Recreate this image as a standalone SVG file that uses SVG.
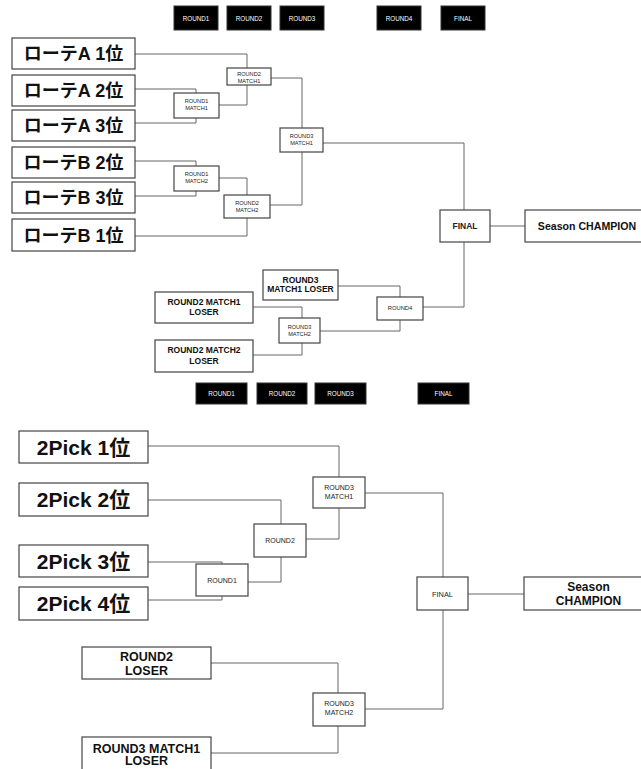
<svg xmlns="http://www.w3.org/2000/svg" width="641" height="769" viewBox="0 0 641 769">
<style>
.bg{fill:#ffffff}
.hdr{fill:#000000;stroke:#333333;stroke-width:1}
.ht{fill:#ffffff;font-family:"Liberation Sans",Arial,sans-serif;font-size:6.3px;text-anchor:middle}
.box{fill:#ffffff;stroke:#444444;stroke-width:1.2}
.big{fill:#111111;font-family:"Liberation Sans","Noto Sans CJK JP",sans-serif;font-weight:bold;text-anchor:middle}
.sm{fill:#222222;font-family:"Liberation Sans",Arial,sans-serif;text-anchor:middle}
.conn path{fill:none;stroke:#666666;stroke-width:1}
</style>
<rect class="bg" x="0" y="0" width="641" height="769"/>

<!-- top header -->
<g id="hdr-top">
<rect class="hdr" x="174" y="6" width="44" height="24"/><text class="ht" x="196" y="20.5">ROUND1</text>
<rect class="hdr" x="227" y="6" width="44" height="24"/><text class="ht" x="249" y="20.5">ROUND2</text>
<rect class="hdr" x="280" y="6" width="44" height="24"/><text class="ht" x="302" y="20.5">ROUND3</text>
<rect class="hdr" x="377" y="6" width="44" height="24"/><text class="ht" x="399" y="20.5">ROUND4</text>
<rect class="hdr" x="441" y="6" width="44" height="24"/><text class="ht" x="463" y="20.5">FINAL</text>
</g>

<!-- top bracket connectors -->
<g id="connectors-top" class="conn">
<path d="M135,54 H247 V68"/>
<path d="M135,89 H196 V93"/>
<path d="M135,123 H196 V118"/>
<path d="M219,105 H247 V85"/>
<path d="M271,78 H302 V128"/>
<path d="M135,161 H196 V166"/>
<path d="M135,196 H196 V191"/>
<path d="M219,178 H247 V195"/>
<path d="M135,236 H247 V218"/>
<path d="M270,205 H302 V152"/>
<path d="M323,143 H464 V210"/>
<path d="M490,226 H525"/>
<path d="M464,242 V307 H423"/>
<path d="M338,286 H400 V297"/>
<path d="M320,331 H400 V320"/>
<path d="M253,307 H302 V318"/>
<path d="M253,355 H302 V343"/>
</g>

<g id="a1"><rect class="box" x="12" y="38" width="123" height="31"/><text class="big" x="73.5" y="60" font-size="18">ローテA 1位</text></g>
<g id="a2"><rect class="box" x="12" y="75" width="123" height="31"/><text class="big" x="73.5" y="97" font-size="18">ローテA 2位</text></g>
<g id="a3"><rect class="box" x="12" y="110" width="123" height="31"/><text class="big" x="73.5" y="132" font-size="18">ローテA 3位</text></g>
<g id="b2"><rect class="box" x="12" y="147" width="123" height="31"/><text class="big" x="73.5" y="169" font-size="18">ローテB 2位</text></g>
<g id="b3"><rect class="box" x="12" y="182" width="123" height="31"/><text class="big" x="73.5" y="204" font-size="18">ローテB 3位</text></g>
<g id="b1"><rect class="box" x="12" y="219" width="123" height="32"/><text class="big" x="73.5" y="242" font-size="18">ローテB 1位</text></g>

<g id="t-r1m1"><rect class="box" x="174" y="93" width="45" height="25"/><text class="sm" font-size="5.6"><tspan x="196.5" y="103">ROUND1</tspan><tspan x="196.5" y="110">MATCH1</tspan></text></g>
<g id="t-r1m2"><rect class="box" x="174" y="166" width="45" height="25"/><text class="sm" font-size="5.6"><tspan x="196.5" y="176">ROUND1</tspan><tspan x="196.5" y="183">MATCH2</tspan></text></g>
<g id="t-r2m1"><rect class="box" x="227" y="68" width="44" height="17"/><text class="sm" font-size="5.6"><tspan x="249" y="76">ROUND2</tspan><tspan x="249" y="82.5">MATCH1</tspan></text></g>
<g id="t-r2m2"><rect class="box" x="224" y="195" width="46" height="23"/><text class="sm" font-size="5.6"><tspan x="247" y="205">ROUND2</tspan><tspan x="247" y="211.5">MATCH2</tspan></text></g>
<g id="t-r3m1"><rect class="box" x="280" y="128" width="43" height="24"/><text class="sm" font-size="5.6"><tspan x="301.5" y="138">ROUND3</tspan><tspan x="301.5" y="144.5">MATCH1</tspan></text></g>
<g id="t-final"><rect class="box" x="440" y="210" width="50" height="32"/><text class="sm" font-size="8.5" font-weight="bold" x="465" y="229">FINAL</text></g>
<g id="t-champ"><rect class="box" x="525" y="210" width="124" height="32"/><text class="big" x="587" y="229.5" font-size="10.6">Season CHAMPION</text></g>
<g id="t-r3m1l"><rect class="box" x="263" y="270" width="75" height="30"/><text class="big" font-size="8.5"><tspan x="300.5" y="283">ROUND3</tspan><tspan x="300.5" y="292">MATCH1 LOSER</tspan></text></g>
<g id="t-r2m1l"><rect class="box" x="155" y="292" width="98" height="31"/><text class="big" font-size="8.5"><tspan x="204" y="305">ROUND2 MATCH1</tspan><tspan x="204" y="315">LOSER</tspan></text></g>
<g id="t-r2m2l"><rect class="box" x="155" y="340" width="98" height="32"/><text class="big" font-size="8.5"><tspan x="204" y="353">ROUND2 MATCH2</tspan><tspan x="204" y="364">LOSER</tspan></text></g>
<g id="t-r3m2"><rect class="box" x="279" y="318" width="41" height="25"/><text class="sm" font-size="5.6"><tspan x="299.5" y="329">ROUND3</tspan><tspan x="299.5" y="335.5">MATCH2</tspan></text></g>
<g id="t-r4"><rect class="box" x="377" y="297" width="46" height="23"/><text class="sm" font-size="5.8" x="400" y="310">ROUND4</text></g>

<!-- lower header -->
<g id="hdr-bottom">
<rect class="hdr" x="196" y="383" width="51" height="21"/><text class="ht" x="221.5" y="396" font-size="6.2">ROUND1</text>
<rect class="hdr" x="257" y="383" width="50" height="21"/><text class="ht" x="282" y="396" font-size="6.2">ROUND2</text>
<rect class="hdr" x="315" y="383" width="51" height="21"/><text class="ht" x="340.5" y="396" font-size="6.2">ROUND3</text>
<rect class="hdr" x="418" y="383" width="51" height="21"/><text class="ht" x="443.5" y="396" font-size="6.2">FINAL</text>
</g>

<g id="connectors-bottom" class="conn">
<path d="M148,446 H339 V477"/>
<path d="M148,500 H281 V524"/>
<path d="M306,539 H339 V508"/>
<path d="M148,562 H222 V564"/>
<path d="M148,600 H222 V596"/>
<path d="M248,582 H281 V557"/>
<path d="M365,493 H443 V577"/>
<path d="M468,594 H524"/>
<path d="M443,610 V709 H365"/>
<path d="M211,663 H338 V693"/>
<path d="M211,753 H338 V726"/>
</g>

<g id="p1"><rect class="box" x="19" y="431" width="129" height="32"/><text class="big" x="83.5" y="454.5" font-size="21">2Pick 1位</text></g>
<g id="p2"><rect class="box" x="19" y="483" width="129" height="33"/><text class="big" x="83.5" y="507" font-size="21">2Pick 2位</text></g>
<g id="p3"><rect class="box" x="19" y="545" width="129" height="32"/><text class="big" x="83.5" y="568.5" font-size="21">2Pick 3位</text></g>
<g id="p4"><rect class="box" x="19" y="587" width="129" height="33"/><text class="big" x="83.5" y="611" font-size="21">2Pick 4位</text></g>

<g id="b-r1"><rect class="box" x="196" y="564" width="52" height="32"/><text class="sm" font-size="7" x="222" y="582.5">ROUND1</text></g>
<g id="b-r2"><rect class="box" x="254" y="524" width="52" height="33"/><text class="sm" font-size="7" x="280" y="542.5">ROUND2</text></g>
<g id="b-r3m1"><rect class="box" x="313" y="477" width="52" height="31"/><text class="sm" font-size="7"><tspan x="339" y="489.5">ROUND3</tspan><tspan x="339" y="498.5">MATCH1</tspan></text></g>
<g id="b-final"><rect class="box" x="417" y="577" width="51" height="33"/><text class="sm" font-size="7.4" x="442.5" y="596.5">FINAL</text></g>
<g id="b-champ"><rect class="box" x="524" y="577" width="129" height="33"/><text class="big" font-size="12"><tspan x="588.5" y="590.5">Season</tspan><tspan x="588.5" y="604.5">CHAMPION</tspan></text></g>
<g id="b-r2l"><rect class="box" x="82" y="647" width="129" height="32"/><text class="big" font-size="12.5"><tspan x="146.5" y="660.5">ROUND2</tspan><tspan x="146.5" y="674.5">LOSER</tspan></text></g>
<g id="b-r3m2"><rect class="box" x="313" y="693" width="52" height="33"/><text class="sm" font-size="7"><tspan x="339" y="705.5">ROUND3</tspan><tspan x="339" y="715">MATCH2</tspan></text></g>
<g id="b-r3m1l"><rect class="box" x="82" y="737" width="129" height="34"/><text class="big" font-size="12.5"><tspan x="146.5" y="752.5">ROUND3 MATCH1</tspan><tspan x="146.5" y="765">LOSER</tspan></text></g>
</svg>
